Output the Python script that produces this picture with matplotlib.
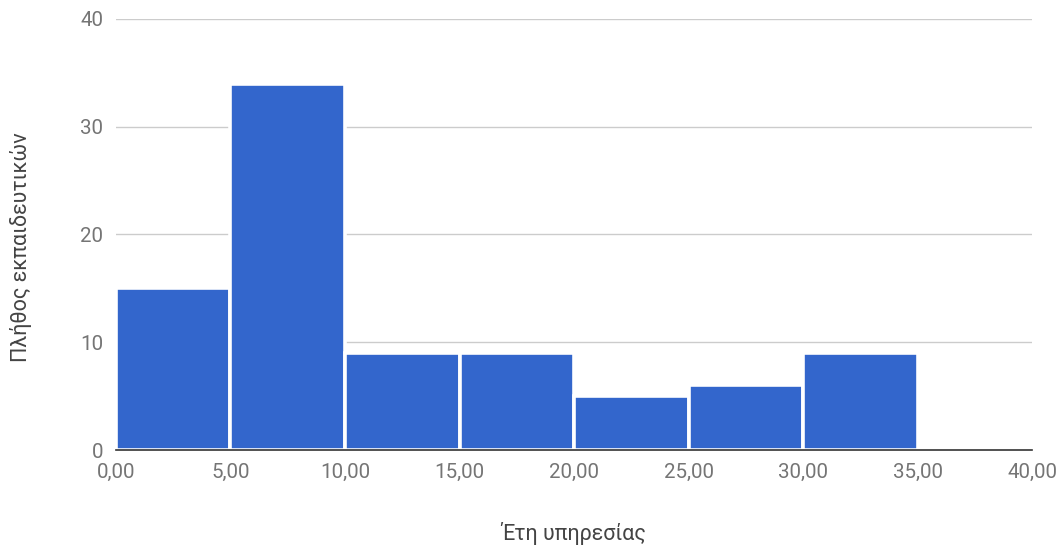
import matplotlib
matplotlib.use("Agg")
import matplotlib.pyplot as plt
from matplotlib.ticker import FuncFormatter

bin_edges = [0, 5, 10, 15, 20, 25, 30, 35, 40]
counts = [15, 34, 9, 9, 5, 6, 9, 0]
x_label = "Έτη υπηρεσίας"
y_label = "Πλήθος εκπαιδευτικών"

plt.rcParams['font.family'] = ['Roboto', 'DejaVu Sans']
fig = plt.figure(figsize=(10.64, 5.5), dpi=100)
ax = fig.add_axes([0.109, 0.1818, 0.861, 0.7837])

left = bin_edges[:-1]
widths = [bin_edges[i + 1] - bin_edges[i] for i in range(len(counts))]
bars = ax.bar(left, counts, width=widths, align='edge', color='#3366CC',
              edgecolor='white', linewidth=2.6, zorder=2)

ax.set_xlim(0, 40)
ax.set_ylim(0, 40)
ax.set_xticks(range(0, 41, 5))
ax.set_yticks(range(0, 41, 10))
ax.xaxis.set_major_formatter(FuncFormatter(lambda v, p: f"{v:.2f}".replace('.', ',')))
ax.yaxis.grid(True, color='#cccccc', linewidth=1, zorder=0)
ax.set_axisbelow(True)
for s in ['top', 'right', 'left']:
    ax.spines[s].set_visible(False)
ax.spines['bottom'].set_color('#333333')
ax.spines['bottom'].set_linewidth(1.2)
ax.spines['bottom'].set_zorder(3)
ax.tick_params(axis='both', length=0, labelsize=14.8, labelcolor='#757575')
ax.tick_params(axis='x', pad=9)
ax.tick_params(axis='y', pad=9)

ax.set_xlabel(x_label, fontsize=15.5, color='#444444', labelpad=29)
ax.set_ylabel(y_label, fontsize=15.5, color='#444444')
ax.yaxis.set_label_coords(-0.092, 0.471)

fig.savefig("out.png", dpi=100)
